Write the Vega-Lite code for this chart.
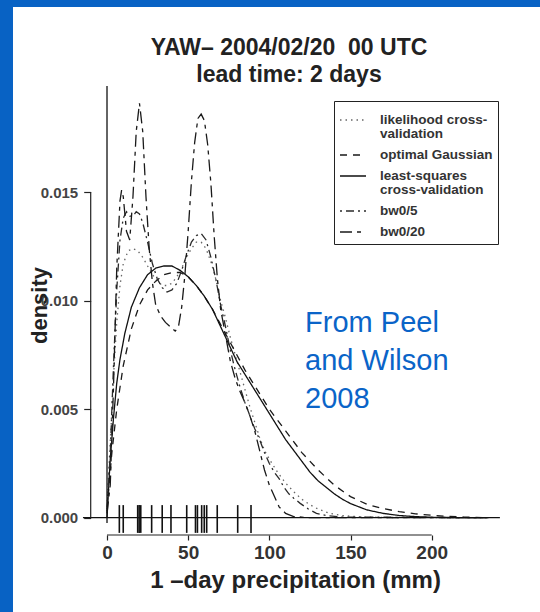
{
  "$schema": "https://vega.github.io/schema/vega-lite/v6.json",
  "width": 527,
  "height": 605,
  "autosize": {"type": "none"},
  "padding": {"left": 13, "top": 7, "right": 0, "bottom": 0},
  "background": "#0862c4",
  "config": {"view": {"fill": "white", "stroke": null}, "style": {"guide-label": {"lineHeight": 14}}},
  "title": {
    "text": ["YAW– 2004/02/20 \u00a000 UTC", "lead time: 2 days"],
    "anchor": "middle", "frame": "group", "offset": -98, "baseline": "alphabetic",
    "fontSize": 23, "font": "Liberation Sans", "fontWeight": "bold", "color": "#222",
    "lineHeight": 27, "dx": 12.5
  },
  "datasets": {
    "curves": [
      {"method":"lcv","precip":0,"density":0.0005},{"method":"lcv","precip":2,"density":0.0035},{"method":"lcv","precip":4,"density":0.0065},{"method":"lcv","precip":6,"density":0.009},{"method":"lcv","precip":8,"density":0.0107},{"method":"lcv","precip":10,"density":0.0117},{"method":"lcv","precip":13,"density":0.0123},{"method":"lcv","precip":16,"density":0.0124},{"method":"lcv","precip":19,"density":0.0123},{"method":"lcv","precip":22,"density":0.012},{"method":"lcv","precip":25,"density":0.0116},{"method":"lcv","precip":28,"density":0.0112},{"method":"lcv","precip":31,"density":0.0109},{"method":"lcv","precip":34,"density":0.0107},{"method":"lcv","precip":37,"density":0.0107},{"method":"lcv","precip":40,"density":0.0108},{"method":"lcv","precip":43,"density":0.0111},{"method":"lcv","precip":46,"density":0.0115},{"method":"lcv","precip":49,"density":0.012},{"method":"lcv","precip":52,"density":0.0124},{"method":"lcv","precip":55,"density":0.0127},{"method":"lcv","precip":58,"density":0.0127},{"method":"lcv","precip":61,"density":0.0124},{"method":"lcv","precip":64,"density":0.0118},{"method":"lcv","precip":67,"density":0.011},{"method":"lcv","precip":70,"density":0.01},{"method":"lcv","precip":73,"density":0.0092},{"method":"lcv","precip":76,"density":0.0083},{"method":"lcv","precip":79,"density":0.0075},{"method":"lcv","precip":82,"density":0.0067},{"method":"lcv","precip":85,"density":0.0059},{"method":"lcv","precip":88,"density":0.0051},{"method":"lcv","precip":91,"density":0.0044},{"method":"lcv","precip":94,"density":0.0037},{"method":"lcv","precip":97,"density":0.0031},{"method":"lcv","precip":100,"density":0.0027},{"method":"lcv","precip":105,"density":0.0021},{"method":"lcv","precip":110,"density":0.0016},{"method":"lcv","precip":115,"density":0.0012},{"method":"lcv","precip":120,"density":0.00085},{"method":"lcv","precip":125,"density":0.0006},{"method":"lcv","precip":130,"density":0.0004},{"method":"lcv","precip":137,"density":0.0002},{"method":"lcv","precip":145,"density":0.0001},{"method":"lcv","precip":155,"density":0.00004},{"method":"lcv","precip":170,"density":0.00001},{"method":"lcv","precip":235,"density":0},
      {"method":"og","precip":0,"density":0.0004},{"method":"og","precip":3,"density":0.003},{"method":"og","precip":6,"density":0.005},{"method":"og","precip":10,"density":0.007},{"method":"og","precip":15,"density":0.0087},{"method":"og","precip":20,"density":0.0098},{"method":"og","precip":25,"density":0.0105},{"method":"og","precip":30,"density":0.0109},{"method":"og","precip":35,"density":0.0112},{"method":"og","precip":40,"density":0.0113},{"method":"og","precip":45,"density":0.0113},{"method":"og","precip":50,"density":0.0111},{"method":"og","precip":55,"density":0.0107},{"method":"og","precip":60,"density":0.0102},{"method":"og","precip":65,"density":0.0096},{"method":"og","precip":70,"density":0.0089},{"method":"og","precip":75,"density":0.0082},{"method":"og","precip":80,"density":0.0075},{"method":"og","precip":85,"density":0.0068},{"method":"og","precip":90,"density":0.0062},{"method":"og","precip":95,"density":0.0056},{"method":"og","precip":100,"density":0.005},{"method":"og","precip":110,"density":0.004},{"method":"og","precip":120,"density":0.003},{"method":"og","precip":130,"density":0.0022},{"method":"og","precip":140,"density":0.0015},{"method":"og","precip":150,"density":0.00097},{"method":"og","precip":160,"density":0.00062},{"method":"og","precip":170,"density":0.00042},{"method":"og","precip":180,"density":0.00028},{"method":"og","precip":190,"density":0.00018},{"method":"og","precip":200,"density":0.00011},{"method":"og","precip":210,"density":0.00006},{"method":"og","precip":220,"density":0.00003},{"method":"og","precip":235,"density":0},
      {"method":"lscv","precip":0,"density":0},{"method":"lscv","precip":1,"density":0.0014},{"method":"lscv","precip":2,"density":0.0027},{"method":"lscv","precip":4,"density":0.0046},{"method":"lscv","precip":6,"density":0.0062},{"method":"lscv","precip":8,"density":0.0073},{"method":"lscv","precip":11,"density":0.0085},{"method":"lscv","precip":15,"density":0.0097},{"method":"lscv","precip":20,"density":0.0106},{"method":"lscv","precip":25,"density":0.0112},{"method":"lscv","precip":30,"density":0.0115},{"method":"lscv","precip":35,"density":0.0116},{"method":"lscv","precip":40,"density":0.0116},{"method":"lscv","precip":45,"density":0.0114},{"method":"lscv","precip":50,"density":0.0111},{"method":"lscv","precip":55,"density":0.0107},{"method":"lscv","precip":60,"density":0.0102},{"method":"lscv","precip":65,"density":0.0096},{"method":"lscv","precip":70,"density":0.0088},{"method":"lscv","precip":75,"density":0.008},{"method":"lscv","precip":80,"density":0.0072},{"method":"lscv","precip":85,"density":0.0066},{"method":"lscv","precip":90,"density":0.006},{"method":"lscv","precip":95,"density":0.0054},{"method":"lscv","precip":100,"density":0.0048},{"method":"lscv","precip":105,"density":0.0042},{"method":"lscv","precip":110,"density":0.0036},{"method":"lscv","precip":115,"density":0.0031},{"method":"lscv","precip":120,"density":0.0026},{"method":"lscv","precip":125,"density":0.0021},{"method":"lscv","precip":130,"density":0.0017},{"method":"lscv","precip":135,"density":0.0014},{"method":"lscv","precip":140,"density":0.0011},{"method":"lscv","precip":145,"density":0.00085},{"method":"lscv","precip":150,"density":0.00065},{"method":"lscv","precip":160,"density":0.00036},{"method":"lscv","precip":170,"density":0.0002},{"method":"lscv","precip":180,"density":0.0001},{"method":"lscv","precip":190,"density":0.00005},{"method":"lscv","precip":200,"density":0.00002},{"method":"lscv","precip":215,"density":0.000005},{"method":"lscv","precip":235,"density":0},
      {"method":"bw5","precip":0,"density":0.0003},{"method":"bw5","precip":2,"density":0.003},{"method":"bw5","precip":4,"density":0.007},{"method":"bw5","precip":6,"density":0.0105},{"method":"bw5","precip":8,"density":0.0128},{"method":"bw5","precip":10,"density":0.0138},{"method":"bw5","precip":12,"density":0.0141},{"method":"bw5","precip":14,"density":0.0139},{"method":"bw5","precip":16,"density":0.0139},{"method":"bw5","precip":18,"density":0.0141},{"method":"bw5","precip":20,"density":0.014},{"method":"bw5","precip":22,"density":0.0136},{"method":"bw5","precip":25,"density":0.0127},{"method":"bw5","precip":28,"density":0.0117},{"method":"bw5","precip":31,"density":0.011},{"method":"bw5","precip":34,"density":0.0106},{"method":"bw5","precip":37,"density":0.0104},{"method":"bw5","precip":40,"density":0.0105},{"method":"bw5","precip":43,"density":0.0108},{"method":"bw5","precip":46,"density":0.0114},{"method":"bw5","precip":49,"density":0.0121},{"method":"bw5","precip":52,"density":0.0127},{"method":"bw5","precip":55,"density":0.013},{"method":"bw5","precip":58,"density":0.0131},{"method":"bw5","precip":61,"density":0.0128},{"method":"bw5","precip":64,"density":0.012},{"method":"bw5","precip":67,"density":0.011},{"method":"bw5","precip":70,"density":0.0098},{"method":"bw5","precip":73,"density":0.0088},{"method":"bw5","precip":76,"density":0.0077},{"method":"bw5","precip":79,"density":0.0068},{"method":"bw5","precip":82,"density":0.006},{"method":"bw5","precip":85,"density":0.0053},{"method":"bw5","precip":88,"density":0.0047},{"method":"bw5","precip":91,"density":0.0041},{"method":"bw5","precip":94,"density":0.0036},{"method":"bw5","precip":97,"density":0.003},{"method":"bw5","precip":100,"density":0.0025},{"method":"bw5","precip":103,"density":0.0021},{"method":"bw5","precip":106,"density":0.0018},{"method":"bw5","precip":109,"density":0.0014},{"method":"bw5","precip":112,"density":0.0011},{"method":"bw5","precip":115,"density":0.0009},{"method":"bw5","precip":119,"density":0.00066},{"method":"bw5","precip":124,"density":0.0004},{"method":"bw5","precip":129,"density":0.0002},{"method":"bw5","precip":135,"density":0.0001},{"method":"bw5","precip":145,"density":0.00003},{"method":"bw5","precip":235,"density":0},
      {"method":"bw20","precip":0,"density":0.0002},{"method":"bw20","precip":2,"density":0.0015},{"method":"bw20","precip":4,"density":0.006},{"method":"bw20","precip":6,"density":0.0115},{"method":"bw20","precip":8,"density":0.0146},{"method":"bw20","precip":9,"density":0.0151},{"method":"bw20","precip":10,"density":0.0148},{"method":"bw20","precip":12,"density":0.0132},{"method":"bw20","precip":14,"density":0.0128},{"method":"bw20","precip":16,"density":0.0148},{"method":"bw20","precip":18,"density":0.0178},{"method":"bw20","precip":20,"density":0.0191},{"method":"bw20","precip":22,"density":0.0178},{"method":"bw20","precip":24,"density":0.0148},{"method":"bw20","precip":26,"density":0.0124},{"method":"bw20","precip":28,"density":0.0108},{"method":"bw20","precip":30,"density":0.0098},{"method":"bw20","precip":33,"density":0.0093},{"method":"bw20","precip":36,"density":0.009},{"method":"bw20","precip":39,"density":0.0088},{"method":"bw20","precip":42,"density":0.0086},{"method":"bw20","precip":44,"density":0.0088},{"method":"bw20","precip":46,"density":0.0097},{"method":"bw20","precip":48,"density":0.0112},{"method":"bw20","precip":50,"density":0.0132},{"method":"bw20","precip":52,"density":0.0155},{"method":"bw20","precip":54,"density":0.0173},{"method":"bw20","precip":56,"density":0.0184},{"method":"bw20","precip":58,"density":0.0186},{"method":"bw20","precip":60,"density":0.0183},{"method":"bw20","precip":62,"density":0.0172},{"method":"bw20","precip":64,"density":0.0154},{"method":"bw20","precip":66,"density":0.013},{"method":"bw20","precip":68,"density":0.011},{"method":"bw20","precip":70,"density":0.0096},{"method":"bw20","precip":73,"density":0.0084},{"method":"bw20","precip":76,"density":0.0072},{"method":"bw20","precip":79,"density":0.0064},{"method":"bw20","precip":82,"density":0.0058},{"method":"bw20","precip":85,"density":0.0053},{"method":"bw20","precip":88,"density":0.0047},{"method":"bw20","precip":91,"density":0.004},{"method":"bw20","precip":94,"density":0.0031},{"method":"bw20","precip":97,"density":0.0022},{"method":"bw20","precip":100,"density":0.0015},{"method":"bw20","precip":103,"density":0.001},{"method":"bw20","precip":106,"density":0.0005},{"method":"bw20","precip":110,"density":0.0002},{"method":"bw20","precip":115,"density":0.00005},{"method":"bw20","precip":125,"density":0},{"method":"bw20","precip":235,"density":0}
    ],
    "rug": [
      {"precip":7.6},{"precip":10.0},{"precip":18.9},{"precip":19.8},{"precip":20.8},{"precip":27.5},{"precip":34.0},{"precip":39.4},{"precip":49.1},{"precip":54.5},{"precip":55.7},{"precip":58.3},{"precip":59.9},{"precip":61.4},{"precip":67.9},{"precip":80.5},{"precip":88.7}
    ]
  },
  "layer": [
    {
      "data": {"name": "curves"},
      "mark": {"type": "line", "strokeWidth": 1.3, "clip": true},
      "encoding": {
        "x": {
          "field": "precip", "type": "quantitative",
          "scale": {"domain": [-57.9, 266.7], "nice": false, "zero": false},
          "axis": {
            "values": [0, 50, 100, 150, 200], "domain": false, "grid": false, "offset": -77,
            "tickSize": 5, "tickColor": "#222", "tickWidth": 1.2,
            "labelFont": "Liberation Sans", "labelFontSize": 19, "labelFontWeight": "bold", "labelColor": "#333",
            "labelBaseline": "alphabetic", "labelPadding": 18, "labelFlush": false, "labelOverlap": false,
            "title": "1 –day precipitation (mm)", "titleFont": "Liberation Sans", "titleFontSize": 24,
            "titleFontWeight": "bold", "titleColor": "#222", "titleX": 282, "titleY": 52,
            "titleBaseline": "alphabetic", "titleAlign": "center"
          }
        },
        "y": {
          "field": "density", "type": "quantitative",
          "scale": {"domain": [-0.004346, 0.023535], "nice": false, "zero": false},
          "axis": {
            "values": [0, 0.005, 0.01, 0.015], "format": ".3f", "domain": false, "grid": false, "offset": -77.7,
            "tickSize": 7, "tickColor": "#222", "tickWidth": 1.2,
            "labelFont": "Liberation Sans", "labelFontSize": 15, "labelFontWeight": "bold", "labelColor": "#444",
            "labelPadding": 6, "labelFlush": false, "labelOverlap": false,
            "title": "density", "titleFont": "Liberation Sans", "titleFontSize": 22, "titleFontWeight": "bold",
            "titleColor": "#222", "titleAngle": 270, "titleX": -43.7, "titleY": 298,
            "titleBaseline": "alphabetic", "titleAlign": "center"
          }
        },
        "detail": {"field": "method", "type": "nominal"},
        "color": {
          "field": "method", "type": "nominal",
          "scale": {"domain": ["lcv", "og", "lscv", "bw5", "bw20"], "range": ["#666666", "#1a1a1a", "#111111", "#2a2a2a", "#1a1a1a"]}
        },
        "strokeDash": {
          "field": "method", "type": "nominal",
          "scale": {"domain": ["lcv", "og", "lscv", "bw5", "bw20"], "range": [[1.5, 4], [7, 6], [1, 0], [2, 4, 8, 4], [12, 5, 4, 5]]},
          "legend": {
            "orient": "none", "legendX": 321, "legendY": 94, "title": null,
            "strokeColor": "#222", "padding": 5, "symbolType": "stroke", "symbolSize": 676,
            "symbolStrokeWidth": 1.3, "labelFont": "Liberation Sans", "labelFontSize": 13.5,
            "labelFontWeight": "bold", "labelColor": "#333", "labelOffset": 13, "rowPadding": -3,
            "labelLimit": 300, "labelBaseline": "middle",
            "labelExpr": "datum.value == 'lcv' ? ['likelihood cross-', 'validation'] : datum.value == 'og' ? 'optimal Gaussian' : datum.value == 'lscv' ? ['least-squares', 'cross-validation'] : datum.value == 'bw5' ? 'bw0/5' : 'bw0/20'"
          }
        }
      }
    },
    {
      "data": {"name": "rug"},
      "mark": {"type": "rule", "color": "#111", "strokeWidth": 1.6},
      "encoding": {
        "x": {"field": "precip", "type": "quantitative", "scale": {"domain": [-57.9, 266.7], "nice": false, "zero": false}},
        "y": {"datum": 0.00058, "scale": {"domain": [-0.004346, 0.023535], "nice": false, "zero": false}},
        "y2": {"datum": -0.0007}
      }
    },
    {
      "data": {"values": [{}]},
      "mark": {"type": "rule", "color": "#111", "strokeWidth": 1.3},
      "encoding": {
        "x": {"datum": 0, "scale": {"domain": [-57.9, 266.7], "nice": false, "zero": false}},
        "y": {"datum": 0.0199, "scale": {"domain": [-0.004346, 0.023535], "nice": false, "zero": false}},
        "y2": {"datum": -0.00025}
      }
    },
    {
      "data": {"values": [{}]},
      "mark": {"type": "rule", "color": "#111", "strokeWidth": 1.3},
      "encoding": {
        "x": {"datum": -14.8, "scale": {"domain": [-57.9, 266.7], "nice": false, "zero": false}},
        "x2": {"datum": 242},
        "y": {"datum": 0, "scale": {"domain": [-0.004346, 0.023535], "nice": false, "zero": false}}
      }
    },
    {
      "data": {"values": [{}]},
      "mark": {"type": "rule", "color": "#222", "strokeWidth": 1.2},
      "encoding": {
        "x": {"datum": -10.04, "scale": {"domain": [-57.9, 266.7], "nice": false, "zero": false}},
        "y": {"datum": 0, "scale": {"domain": [-0.004346, 0.023535], "nice": false, "zero": false}},
        "y2": {"datum": 0.015}
      }
    },
    {
      "data": {"values": [{}]},
      "mark": {"type": "rule", "color": "#222", "strokeWidth": 1.2},
      "encoding": {
        "x": {"datum": 0, "scale": {"domain": [-57.9, 266.7], "nice": false, "zero": false}},
        "x2": {"datum": 200},
        "y": {"datum": -0.000797, "scale": {"domain": [-0.004346, 0.023535], "nice": false, "zero": false}}
      }
    },
    {
      "data": {"values": [{}]},
      "mark": {"type": "text", "align": "left", "baseline": "alphabetic", "fontSize": 29, "lineHeight": 38, "font": "Liberation Sans", "color": "#0a64c8"},
      "encoding": {
        "x": {"datum": 122, "scale": {"domain": [-57.9, 266.7], "nice": false, "zero": false}},
        "y": {"datum": 0.00857, "scale": {"domain": [-0.004346, 0.023535], "nice": false, "zero": false}},
        "text": {"value": ["From Peel", "and Wilson", "2008"]}
      }
    }
  ]
}
